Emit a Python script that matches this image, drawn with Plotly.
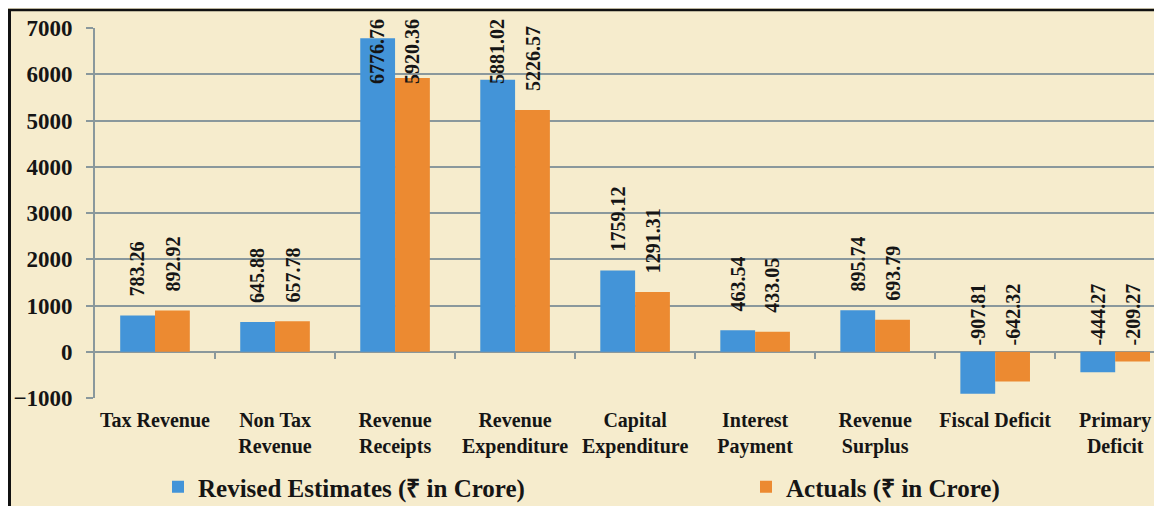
import plotly.graph_objects as go

categories = ["Tax Revenue", "Non Tax<br>Revenue", "Revenue<br>Receipts", "Revenue<br>Expenditure",
              "Capital<br>Expenditure", "Interest<br>Payment", "Revenue<br>Surplus", "Fiscal Deficit",
              "Primary<br>Deficit"]
revised = [783.26, 645.88, 6776.76, 5881.02, 1759.12, 463.54, 895.74, -907.81, -444.27]
actuals = [892.92, 657.78, 5920.36, 5226.57, 1291.31, 433.05, 693.79, -642.32, -209.27]
series_names = ["Revised Estimates (₹ in Crore)", "Actuals (₹ in Crore)"]
y_ticks = [-1000, 0, 1000, 2000, 3000, 4000, 5000, 6000, 7000]

BLUE = "#4394D8"
ORANGE = "#EC8A31"
BG = "#F6ECCD"
GRID = "#8A989C"
FONT = "Liberation Serif"
TXT = "#151515"

# page body has an 8px margin; the figure fills the rest of the 1162x506 window
W, H = 1154, 498
L, R, T, B = 87, 0, 20, 108
PW, PH = W - L - R, H - T - B

def px(x):
    return (x - L) / PW

def py(y):
    return (H - B - y) / PH

idx = list(range(len(categories)))

fig = go.Figure()
fig.add_trace(go.Bar(x=idx, y=revised, name=series_names[0], marker_color=BLUE, marker_line_width=0,
                     legend="legend"))
fig.add_trace(go.Bar(x=idx, y=actuals, name=series_names[1], marker_color=ORANGE, marker_line_width=0,
                     legend="legend2"))
# helper trace to draw boundary ticks on the zero line
fig.add_trace(go.Scatter(x=idx, y=[None] * len(idx), xaxis="x2", yaxis="y", mode="none",
                         showlegend=False, hoverinfo="skip"))

CAP = 5380
OFF = 0.146
annotations = []
for series, sign in ((revised, -1), (actuals, 1)):
    for i, v in enumerate(series):
        yv = min(v, CAP) if v > 0 else 0
        annotations.append(dict(
            x=i + sign * OFF, y=yv, xref="x", yref="y", text=f"{v:.2f}", showarrow=False,
            textangle=-90, yanchor="bottom", xanchor="center",
            yshift=17 if v > 0 else 4,
            font=dict(family=FONT, size=20, color=TXT, weight="bold")))

shapes = [
    dict(type="line", xref="paper", yref="paper", x0=px(0), x1=px(W), y0=py(2), y1=py(2),
         line=dict(color="#111", width=2.5), layer="above"),
    dict(type="line", xref="paper", yref="paper", x0=px(1.5), x1=px(1.5), y0=py(1), y1=py(H),
         line=dict(color="#111", width=3), layer="above"),
]

legend_font = dict(family=FONT, size=25, color=TXT, weight="bold")

fig.update_layout(
    width=W, height=H,
    margin=dict(l=L, r=R, t=T, b=B, pad=0, autoexpand=False),
    paper_bgcolor=BG, plot_bgcolor=BG,
    barmode="group", bargap=0.42, bargroupgap=0,
    font=dict(family=FONT, color=TXT, weight="bold"),
    xaxis=dict(type="linear", range=[-0.5, 8.39], tickmode="array", tickvals=idx, ticktext=categories,
               showgrid=False, zeroline=False, showline=False, ticks="",
               tickfont=dict(family=FONT, size=20, color=TXT, weight="bold"), ticklabelstandoff=8),
    xaxis2=dict(overlaying="x", matches="x", anchor="free", position=1000 / 8000, side="bottom",
                showticklabels=False, showgrid=False, zeroline=False, showline=False,
                tickmode="array", tickvals=[i + 0.5 for i in idx[:-1]], ticks="outside",
                ticklen=6, tickcolor=GRID, tickwidth=1.5),
    yaxis=dict(range=[-1000, 7000], tickmode="array", tickvals=y_ticks,
               showgrid=True, gridcolor=GRID, gridwidth=1.8,
               zeroline=True, zerolinecolor=GRID, zerolinewidth=1.8,
               showline=True, linecolor=GRID, linewidth=1.8,
               ticks="outside", ticklen=7, tickcolor=GRID, tickwidth=1.5,
               tickfont=dict(family=FONT, size=23, color=TXT, weight="bold"), ticklabelstandoff=9),
    legend=dict(orientation="h", x=px(150), y=py(456), xanchor="left", yanchor="top",
                bgcolor="rgba(0,0,0,0)", font=legend_font),
    legend2=dict(orientation="h", x=px(738), y=py(456), xanchor="left", yanchor="top",
                 bgcolor="rgba(0,0,0,0)", font=legend_font),
    shapes=shapes,
    annotations=annotations,
    showlegend=True,
)

fig.write_html("out.html")
